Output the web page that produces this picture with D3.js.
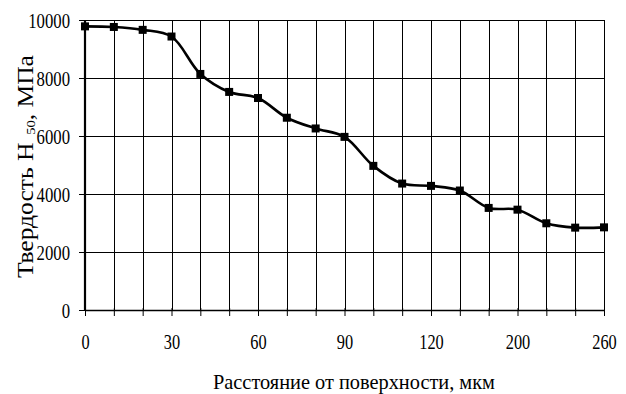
<!DOCTYPE html>
<html>
<head>
<meta charset="utf-8">
<script src="https://cdn.jsdelivr.net/npm/d3@7"></script>
<style>
  body { margin: 0; background: #fff; }
</style>
</head>
<body>
<div id="chart"></div>
<script>
// depth from the surface, µm (only every third one is labelled)
var depths = [0, 10, 20, 30, 40, 50, 60, 70, 80, 90, 100, 110, 120, 130, 150, 200, 220, 240, 260];
var hardness = [9780, 9760, 9660, 9430, 8140, 7520, 7310, 6630, 6260, 5970, 4970, 4360, 4280, 4120, 3520, 3460, 2990, 2840, 2850];
var yTicks = [0, 2000, 4000, 6000, 8000, 10000];
var labelEvery = 3;

var serif = "'Liberation Serif', 'Times New Roman', serif";
var squeeze = 0.76; // the original lettering is narrow

var width = 626, height = 394;
var margin = {top: 20, right: 22, bottom: 84, left: 85};
var w = width - margin.left - margin.right,
    h = height - margin.top - margin.bottom;

var svg = d3.select("#chart").append("svg")
    .attr("width", width)
    .attr("height", height)
    .attr("font-family", serif);

var g = svg.append("g")
    .attr("transform", "translate(" + margin.left + "," + margin.top + ")");

var x = d3.scalePoint()
    .domain(depths.map(String))
    .range([0, w]);

var y = d3.scaleLinear()
    .domain([0, 10000])
    .range([h, 0]);

// grid
g.append("g").selectAll("line")
    .data(depths.slice(1))
  .enter().append("line")
    .attr("x1", function(d) { return Math.round(x(String(d))) + 0.5; })
    .attr("x2", function(d) { return Math.round(x(String(d))) + 0.5; })
    .attr("y1", 0).attr("y2", h)
    .attr("stroke", "#000").attr("stroke-width", 1);

g.append("g").selectAll("line")
    .data(yTicks.slice(1))
  .enter().append("line")
    .attr("x1", 0).attr("x2", w)
    .attr("y1", function(d) { return Math.round(y(d)) + 0.5; })
    .attr("y2", function(d) { return Math.round(y(d)) + 0.5; })
    .attr("stroke", "#000").attr("stroke-width", 1);

// y axis
var yAxis = g.append("g")
    .call(d3.axisLeft(y).tickValues(yTicks).tickSize(6).tickFormat(d3.format("d")));
yAxis.attr("font-family", serif).attr("font-size", 22);
yAxis.select(".domain").attr("stroke-width", 2.2).attr("d", "M0," + (h + 1) + "V0");
yAxis.selectAll(".tick text")
    .attr("x", -15 / squeeze)
    .attr("transform", "scale(" + squeeze + ",1)");

// x axis
var xAxis = g.append("g")
    .attr("transform", "translate(0," + h + ")")
    .call(d3.axisBottom(x).tickSize(6)
      .tickFormat(function(d, i) { return i % labelEvery === 0 ? d : ""; }));
xAxis.attr("font-family", serif).attr("font-size", 21.5);
xAxis.select(".domain").attr("stroke-width", 1.6).attr("d", "M0,0.5H" + w);
xAxis.selectAll(".tick line").attr("y1", -2);
xAxis.selectAll(".tick text")
    .attr("y", 24)
    .attr("transform", "scale(" + squeeze + ",1)");

// line
var line = d3.line()
    .x(function(d, i) { return x(String(depths[i])); })
    .y(function(d) { return y(d); })
    .curve(d3.curveCatmullRom.alpha(0.5));

g.append("path")
    .datum(hardness)
    .attr("fill", "none")
    .attr("stroke", "#000")
    .attr("stroke-width", 2.6)
    .attr("d", line);

g.selectAll(".pt")
    .data(hardness)
  .enter().append("rect")
    .attr("class", "pt")
    .attr("x", function(d, i) { return x(String(depths[i])) - 4; })
    .attr("y", function(d) { return y(d) - 4; })
    .attr("width", 8).attr("height", 8)
    .attr("fill", "#000");

// titles
svg.append("text")
    .attr("x", 354)
    .attr("y", 389)
    .attr("text-anchor", "middle")
    .attr("font-size", 21)
    .attr("textLength", 282)
    .attr("lengthAdjust", "spacingAndGlyphs")
    .text("Расстояние от поверхности, мкм");

var ytWrap = svg.append("g");
var yt = ytWrap.append("text")
    .attr("text-anchor", "middle")
    .attr("font-size", 23);
yt.append("tspan").text("Твердость Н");
yt.append("tspan").attr("dx", 7).attr("dy", 2).attr("font-size", 13).text("50");
yt.append("tspan").attr("dy", -2).text(", МПа");
var ytLen = yt.node().getComputedTextLength() + 7;
ytWrap.attr("transform", "translate(33,166.5) rotate(-90) scale(" + (223 / ytLen) + ",1)");
</script>
</body>
</html>
